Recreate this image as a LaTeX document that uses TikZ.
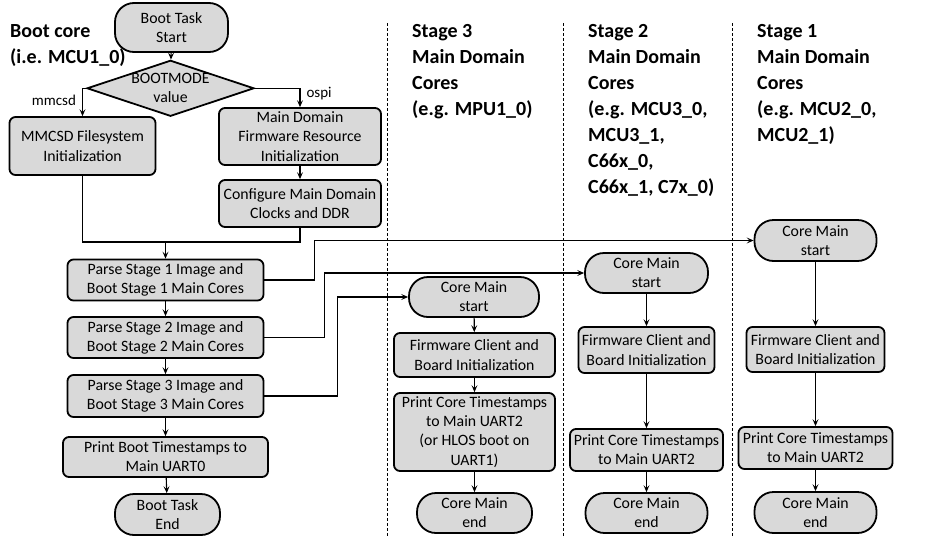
\documentclass[tikz,border=0pt]{standalone}
\usepackage{fontspec}
\setmainfont{Carlito}
\usetikzlibrary{arrows.meta,shapes.geometric}
\definecolor{boxfill}{HTML}{D9D9D9}
\tikzset{
  base/.style={draw=black, line width=1.8pt, fill=boxfill, inner sep=0pt, align=center,
    font=\fontsize{15.8}{19.2}\selectfont},
  procbox/.style={base, rounded corners=6pt},
  term/.style={base, rounded corners=19pt},
  decision/.style={draw=black, line width=1.8pt, fill=boxfill, shape=diamond, inner sep=0pt, aspect=3},
  arr/.style={line width=1.1pt, -{Stealth[length=7pt,width=6pt,inset=3pt]}},
  conn/.style={line width=1.1pt},
  sep/.style={line width=0.8pt, dash pattern=on 3pt off 2pt},
  head/.style={anchor=north west, inner sep=0pt, align=left, font=\fontsize{20}{26}\selectfont\bfseries},
  lbl/.style={inner sep=0pt, font=\fontsize{15}{18}\selectfont}
}
\begin{document}
\begin{tikzpicture}[x=1pt,y=-1pt]
\useasboundingbox (0,0) rectangle (926,544);
% headers
\node[head] (hboot) at (10,24) {Boot core\\(i.e. MCU1\_0)};
\node[head] (h3) at (412,24) {Stage 3\\Main Domain\\Cores\\(e.g. MPU1\_0)};
\node[head] (h2) at (588,24) {Stage 2\\Main Domain\\Cores\\(e.g. MCU3\_0,\\MCU3\_1,\\C66x\_0,\\C66x\_1, C7x\_0)};
\node[head] (h1) at (757,24) {Stage 1\\Main Domain\\Cores\\(e.g. MCU2\_0,\\MCU2\_1)};
% separators
\draw[sep] (387,23) -- (387,537);
\draw[sep] (563,23) -- (563,537);
\draw[sep] (732,23) -- (732,537);
% boot core column
\node[term, minimum width=113pt, minimum height=49pt] (bstart) at (171.5,27.5) {Boot Task\\Start};
\node[decision, minimum width=167pt, minimum height=56pt] (mode) at (170.5,88.3) {};
\node[inner sep=0pt, align=center, font=\fontsize{15.8}{19.2}\selectfont] (modetxt) at (170.5,88.3) {BOOTMODE\\value};
\node[procbox, minimum width=146pt, minimum height=58pt] (mmcsd) at (82.5,146) {MMCSD Filesystem\\Initialization};
\node[procbox, minimum width=162pt, minimum height=57pt] (fwres) at (300,136.5) {Main Domain\\Firmware Resource\\Initialization};
\node[procbox, minimum width=162pt, minimum height=47pt] (clocks) at (300,203.5) {Configure Main Domain\\Clocks and DDR};
\node[procbox, minimum width=196pt, minimum height=41pt] (parse1) at (165.5,280) {Parse Stage 1 Image and\\Boot Stage 1 Main Cores};
\node[procbox, minimum width=196pt, minimum height=41pt] (parse2) at (165.5,337.5) {Parse Stage 2 Image and\\Boot Stage 2 Main Cores};
\node[procbox, minimum width=196pt, minimum height=42pt] (parse3) at (165.5,396) {Parse Stage 3 Image and\\Boot Stage 3 Main Cores};
\node[procbox, minimum width=205pt, minimum height=40pt] (pboot) at (165.5,457) {Print Boot Timestamps to\\Main UART0};
\node[term, minimum width=105pt, minimum height=41pt] (bend) at (167.5,514.5) {Boot Task\\End};
\coordinate (merge) at (165.5,242);
% stage 3
\node[term, minimum width=130pt, minimum height=40pt] (s3start) at (474,297) {Core Main\\start};
\node[procbox, minimum width=161pt, minimum height=44pt] (s3fw) at (474.5,355) {Firmware Client and\\Board Initialization};
\node[procbox, minimum width=161pt, minimum height=78pt] (s3print) at (474.5,432) {Print Core Timestamps\\to Main UART2\\(or HLOS boot on\\UART1)};
\node[term, minimum width=115pt, minimum height=40pt] (s3end) at (474.5,513) {Core Main\\end};
% stage 2
\node[term, minimum width=123pt, minimum height=40pt] (s2start) at (646.5,273) {Core Main\\start};
\node[procbox, minimum width=136pt, minimum height=46pt] (s2fw) at (646.5,350) {Firmware Client and\\Board Initialization};
\node[procbox, minimum width=153pt, minimum height=42pt] (s2print) at (646.5,450) {Print Core Timestamps\\to Main UART2};
\node[term, minimum width=122pt, minimum height=40pt] (s2end) at (646.5,513) {Core Main\\end};
% stage 1
\node[term, minimum width=122pt, minimum height=41pt] (s1start) at (815.5,240.5) {Core Main\\start};
\node[procbox, minimum width=138pt, minimum height=45pt] (s1fw) at (815.5,349.5) {Firmware Client and\\Board Initialization};
\node[procbox, minimum width=154pt, minimum height=42pt] (s1print) at (815.5,448) {Print Core Timestamps\\to Main UART2};
\node[term, minimum width=122pt, minimum height=41pt] (s1end) at (815.5,512.5) {Core Main\\end};
% connectors boot core
\draw[arr] (bstart) -- (mode);
\draw[arr] (mode.west) -| node[lbl, pos=0.72, left=6pt] (lmm) {mmcsd} (mmcsd.north);
\draw[arr] (mode.east) -| node[lbl, pos=0.65, right=6pt] (los) {ospi} (fwres.north);
\draw[arr] (fwres) -- (clocks);
\draw[conn] (mmcsd.south) |- (merge);
\draw[conn] (clocks.south) |- (merge);
\draw[arr] (merge) -- (parse1.north);
\draw[arr] (parse1) -- (parse2);
\draw[arr] (parse2) -- (parse3);
\draw[arr] (parse3) -- (pboot);
\draw[arr] (pboot) -- (bend);
% cross connectors
\draw[arr] (parse1.east) -- ++(50,0) |- (s1start.west);
\draw[arr] (parse2.east) -- ++(60,0) |- (s2start.west);
\draw[arr] (parse3.east) -- ++(73,0) |- (s3start.west);
% stage columns
\draw[arr] (s3start) -- (s3fw);
\draw[arr] (s3fw) -- (s3print);
\draw[arr] (s3print) -- (s3end);
\draw[arr] (s2start) -- (s2fw);
\draw[arr] (s2fw) -- (s2print);
\draw[arr] (s2print) -- (s2end);
\draw[arr] (s1start) -- (s1fw);
\draw[arr] (s1fw) -- (s1print);
\draw[arr] (s1print) -- (s1end);
\end{tikzpicture}
\end{document}
